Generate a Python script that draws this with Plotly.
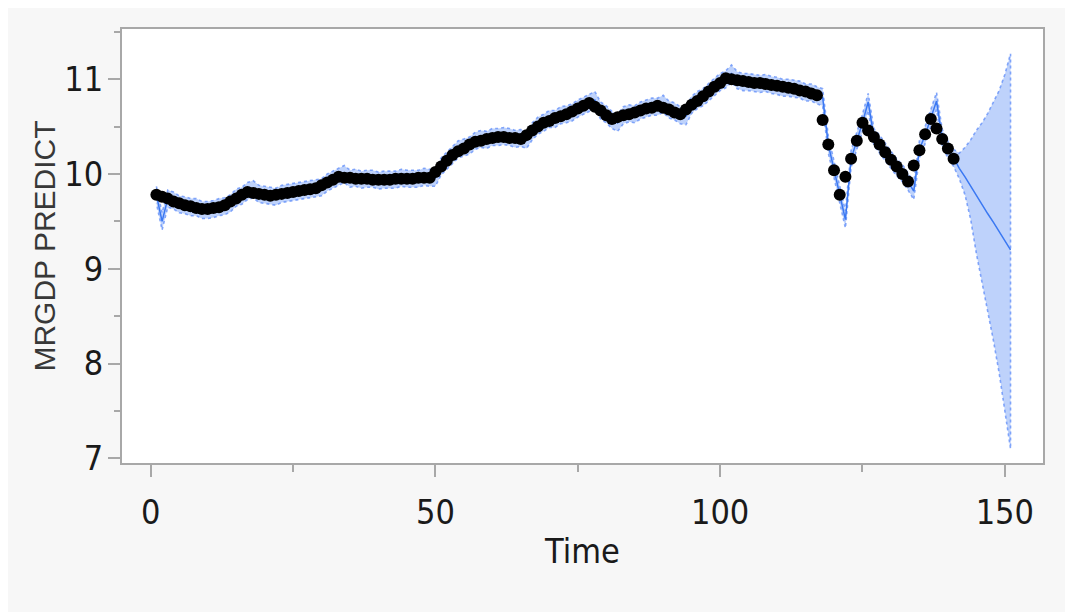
import plotly.graph_objects as go

# ---------------- data ----------------
time_obs = list(range(1, 142))
actual = [
    9.78, 9.76, 9.74, 9.71, 9.69,
    9.67, 9.66, 9.64, 9.63,
    9.63, 9.64, 9.65, 9.67,
    9.71, 9.74, 9.78, 9.81,
    9.80, 9.79, 9.78, 9.77,
    9.78, 9.79, 9.80, 9.81,
    9.82, 9.83, 9.84, 9.85,
    9.88, 9.91, 9.94, 9.97,
    9.96, 9.96, 9.95, 9.95,
    9.95, 9.94, 9.94, 9.94,
    9.94, 9.95, 9.95, 9.95,
    9.95, 9.96, 9.96, 9.96,
    10.02, 10.08, 10.14, 10.20,
    10.24, 10.27, 10.31, 10.34,
    10.35, 10.37, 10.38, 10.39,
    10.39, 10.38, 10.38, 10.37,
    10.41, 10.46, 10.50, 10.54,
    10.56, 10.59, 10.61, 10.63,
    10.66, 10.69, 10.72, 10.75,
    10.71, 10.67, 10.62, 10.58,
    10.60, 10.62, 10.63, 10.65,
    10.67, 10.69, 10.70, 10.72,
    10.70, 10.68, 10.65, 10.63,
    10.68, 10.73, 10.77, 10.82,
    10.87, 10.92, 10.96, 11.01,
    11.00, 10.99, 10.98, 10.97,
    10.96, 10.96, 10.95, 10.94,
    10.93, 10.92, 10.91, 10.90,
    10.88, 10.87, 10.85, 10.83,
    10.57, 10.31, 10.04, 9.78,
    9.97, 10.16, 10.35, 10.54,
    10.46, 10.39, 10.31, 10.23,
    10.15, 10.08, 10.00, 9.92,
    10.09, 10.25, 10.42, 10.58,
    10.48, 10.37, 10.27, 10.16,
]

# one-step-ahead prediction over the observed period
predicted_hist = [
    9.78, 9.50, 9.74, 9.72, 9.68,
    9.67, 9.65, 9.65, 9.62,
    9.62, 9.63, 9.65, 9.66,
    9.69, 9.75, 9.77, 9.82,
    9.84, 9.79, 9.78, 9.77,
    9.76, 9.79, 9.80, 9.81,
    9.82, 9.83, 9.84, 9.85,
    9.86, 9.91, 9.94, 9.97,
    10.00, 9.95, 9.96, 9.94,
    9.95, 9.95, 9.93, 9.94,
    9.94, 9.94, 9.96, 9.95,
    9.95, 9.95, 9.97, 9.96,
    9.96, 10.08, 10.14, 10.20,
    10.26, 10.28, 10.30, 10.35,
    10.37, 10.36, 10.39, 10.39,
    10.40, 10.39, 10.37, 10.38,
    10.36, 10.45, 10.51, 10.54,
    10.58, 10.58, 10.62, 10.63,
    10.65, 10.69, 10.72, 10.75,
    10.78, 10.67, 10.63, 10.57,
    10.54, 10.62, 10.64, 10.63,
    10.67, 10.69, 10.71, 10.71,
    10.74, 10.68, 10.66, 10.62,
    10.61, 10.73, 10.78, 10.81,
    10.87, 10.92, 10.97, 11.00,
    11.06, 10.99, 10.97, 10.97,
    10.96, 10.95, 10.96, 10.94,
    10.93, 10.91, 10.91, 10.90,
    10.89, 10.86, 10.86, 10.83,
    10.81, 10.31, 10.05, 9.77,
    9.52, 10.16, 10.35, 10.54,
    10.76, 10.39, 10.32, 10.23,
    10.15, 10.07, 10.01, 9.92,
    9.82, 10.26, 10.41, 10.59,
    10.77, 10.38, 10.26, 10.17,
]
hist_halfwidth = 0.09  # half-width of the confidence band over the observed period

time_fc = list(range(142, 152))
forecast = [10.06, 9.97, 9.87, 9.78, 9.68, 9.58, 9.49, 9.39, 9.30, 9.20]
forecast_upper = [10.22, 10.28, 10.36, 10.46, 10.54, 10.64, 10.76, 10.88, 11.05, 11.27]
forecast_lower = [9.95, 9.78, 9.52, 9.16, 8.85, 8.55, 8.24, 7.90, 7.52, 7.10]

x_ticks = [0, 50, 100, 150]
y_ticks = [7, 8, 9, 10, 11]

# ---------------- build series ----------------
time_all = time_obs + time_fc
pred_all = predicted_hist + forecast
upper_all = [p + hist_halfwidth for p in predicted_hist] + forecast_upper
lower_all = [p - hist_halfwidth for p in predicted_hist] + forecast_lower

band_x = time_all + time_all[::-1]
band_y = upper_all + lower_all[::-1]

# ---------------- layout ----------------
W, H = 1073, 612
AX = "#a8a8a8"

fig = go.Figure()
fig.add_trace(go.Scatter(
    x=band_x, y=band_y, mode="lines", fill="toself",
    fillcolor="rgba(120,160,246,0.48)",
    line=dict(color="rgba(95,140,248,0.75)", width=1.6, dash="dot"),
    hoverinfo="skip", showlegend=False,
))
fig.add_trace(go.Scatter(
    x=time_all, y=pred_all, mode="lines",
    line=dict(color="#3a78f2", width=1.5),
    showlegend=False,
))
fig.add_trace(go.Scatter(
    x=time_obs, y=actual, mode="markers",
    marker=dict(color="black", size=12, line=dict(width=0)),
    showlegend=False,
))

tick_font = dict(family="Liberation Sans Narrow, DejaVu Sans Condensed, sans-serif", size=34, color="#1a1a1a")

fig.update_layout(
    width=W, height=H,
    margin=dict(l=114, r=38, t=21, b=157),
    paper_bgcolor="#f7f7f7",
    plot_bgcolor="white",
    showlegend=False,
)
fig.update_xaxes(
    range=[-5.04, 156.7], tickvals=x_ticks, ticktext=[str(v) for v in x_ticks],
    showgrid=False, zeroline=False,
    showline=True, mirror=True, linecolor=AX, linewidth=2,
    ticks="outside", ticklen=12, tickwidth=1.5, tickcolor=AX,
    minor=dict(dtick=25, tick0=0, ticks="outside", ticklen=7, tickwidth=1.5, tickcolor=AX, showgrid=False),
    tickfont=tick_font, ticklabelstandoff=6,
    title=dict(text="Time", font=tick_font, standoff=8),
)
fig.update_yaxes(
    range=[6.95, 11.53], tickvals=y_ticks, ticktext=[str(v) for v in y_ticks],
    showgrid=False, zeroline=False,
    showline=True, mirror=True, linecolor=AX, linewidth=2,
    ticks="outside", ticklen=12, tickwidth=1.5, tickcolor=AX,
    minor=dict(dtick=0.5, tick0=7, ticks="outside", ticklen=6, tickwidth=1.5, tickcolor=AX, showgrid=False),
    tickfont=tick_font, ticklabelstandoff=-2,
    title=dict(text="MRGDP PREDICT",
               font=dict(family="Liberation Sans, Arial, sans-serif", size=30, color="#383838"),
               standoff=0),
)

fig.write_html("out.html")
